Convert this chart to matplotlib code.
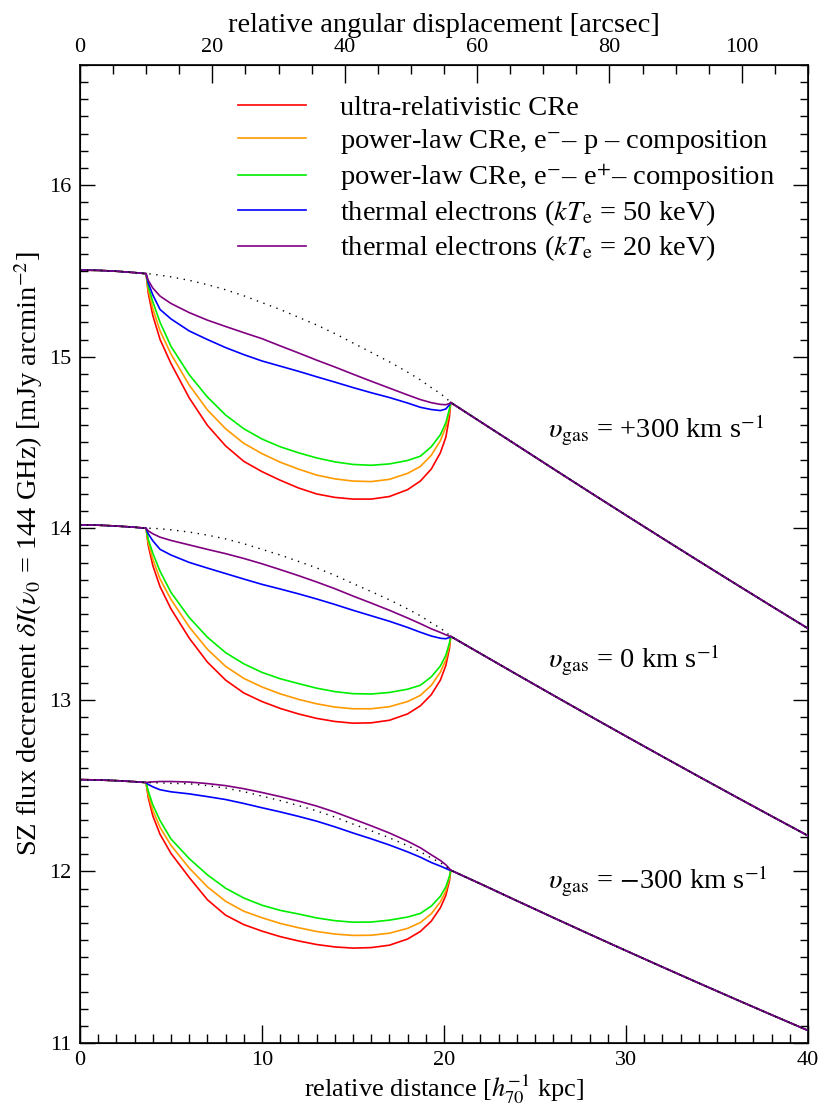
import matplotlib
matplotlib.use('Agg')
import matplotlib.pyplot as plt
from matplotlib.ticker import MultipleLocator

plt.rcParams['font.family'] = ['Liberation Serif', 'DejaVu Serif']
plt.rcParams['mathtext.fontset'] = 'stix'

# distance grid [kpc]
x_core = [0, 1, 2, 3, 3.63]
x_bub = [3.63, 3.75, 4.0, 4.4, 5.0, 6.0, 7.0, 8.0, 9.0, 10, 11, 12, 13, 14,
         15, 16, 17, 18, 18.7, 19.3, 19.8, 20.1, 20.3, 20.37]
x_tail = [20.37, 22, 24, 26, 28, 30, 32, 34, 36, 38, 40]

# v_gas = +300 km/s
top_core = [15.505, 15.503, 15.498, 15.49, 15.484]
top_tail = [14.733, 14.621, 14.484, 14.347, 14.211, 14.076, 13.942, 13.809, 13.677, 13.546, 13.416]
top_dot = [15.484, 15.483, 15.481, 15.475, 15.465, 15.445, 15.42, 15.39, 15.355, 15.315, 15.275, 15.23,
           15.185, 15.135, 15.08, 15.025, 14.97, 14.91, 14.865, 14.82, 14.785, 14.76, 14.74, 14.733]
top_red = [15.484, 15.37, 15.24, 15.10, 14.96, 14.76, 14.60, 14.48, 14.39, 14.33, 14.28, 14.235,
           14.20, 14.18, 14.17, 14.17, 14.185, 14.225, 14.275, 14.345, 14.44, 14.53, 14.65, 14.733]
top_orange = [15.484, 15.39, 15.28, 15.15, 15.015, 14.835, 14.69, 14.58, 14.495, 14.435, 14.385, 14.345,
              14.31, 14.288, 14.275, 14.272, 14.285, 14.32, 14.36, 14.425, 14.51, 14.59, 14.68, 14.733]
top_green = [15.484, 15.41, 15.32, 15.20, 15.06, 14.895, 14.765, 14.66, 14.58, 14.52, 14.475, 14.44,
             14.41, 14.387, 14.372, 14.367, 14.375, 14.395, 14.42, 14.475, 14.545, 14.615, 14.695, 14.733]
top_blue = [15.484, 15.43, 15.36, 15.275, 15.22, 15.15, 15.10, 15.053, 15.012, 14.975, 14.945, 14.915,
            14.883, 14.852, 14.82, 14.79, 14.762, 14.73, 14.705, 14.692, 14.686, 14.695, 14.72, 14.733]
top_purple = [15.484, 15.445, 15.40, 15.353, 15.31, 15.257, 15.213, 15.176, 15.14, 15.105, 15.063, 15.022,
              14.98, 14.94, 14.898, 14.857, 14.817, 14.777, 14.75, 14.732, 14.722, 14.72, 14.727, 14.733]

# v_gas = 0 km/s
mid_core = [14.02, 14.018, 14.013, 14.006, 14.0]
mid_tail = [13.37, 13.27, 13.148, 13.027, 12.907, 12.788, 12.67, 12.553, 12.437, 12.322, 12.208]
mid_dot = [14.0, 14.0, 14.0, 13.997, 13.991, 13.978, 13.96, 13.938, 13.91, 13.877, 13.844, 13.807,
           13.769, 13.726, 13.678, 13.631, 13.583, 13.53, 13.49, 13.449, 13.418, 13.395, 13.376, 13.37]
mid_red = [14.0, 13.90, 13.783, 13.659, 13.53, 13.36, 13.22, 13.115, 13.04, 12.99, 12.95, 12.918,
           12.892, 12.874, 12.864, 12.866, 12.881, 12.918, 12.965, 13.03, 13.115, 13.2, 13.3, 13.37]
mid_orange = [14.0, 13.915, 13.819, 13.704, 13.585, 13.425, 13.295, 13.195, 13.125, 13.075, 13.035, 13.003,
              12.977, 12.958, 12.948, 12.948, 12.96, 12.99, 13.026, 13.084, 13.161, 13.233, 13.317, 13.37]
mid_green = [14.0, 13.935, 13.855, 13.749, 13.626, 13.48, 13.365, 13.275, 13.21, 13.16, 13.123, 13.095,
             13.068, 13.048, 13.036, 13.034, 13.043, 13.062, 13.085, 13.134, 13.197, 13.26, 13.331, 13.37]
mid_blue = [14.0, 13.968, 13.927, 13.877, 13.844, 13.801, 13.768, 13.736, 13.704, 13.673, 13.646, 13.618,
            13.588, 13.556, 13.522, 13.49, 13.458, 13.422, 13.394, 13.372, 13.359, 13.356, 13.364, 13.37]
mid_purple = [14.0, 13.985, 13.968, 13.948, 13.929, 13.903, 13.877, 13.852, 13.824, 13.793, 13.759, 13.724,
              13.687, 13.648, 13.605, 13.564, 13.522, 13.477, 13.444, 13.414, 13.393, 13.379, 13.371, 13.37]

# v_gas = -300 km/s
bot_core = [12.535, 12.533, 12.529, 12.523, 12.518]
bot_tail = [12.007, 11.928, 11.829, 11.731, 11.634, 11.538, 11.443, 11.349, 11.256, 11.164, 11.073]
bot_dot = [12.518, 12.518, 12.517, 12.516, 12.513, 12.511, 12.5, 12.486, 12.465, 12.439, 12.413, 12.384,
           12.353, 12.317, 12.276, 12.237, 12.196, 12.15, 12.115, 12.078, 12.051, 12.03, 12.012, 12.007]
bot_red = [12.518, 12.43, 12.324, 12.216, 12.105, 11.965, 11.835, 11.745, 11.69, 11.652, 11.62, 11.595,
           11.574, 11.56, 11.553, 11.556, 11.57, 11.606, 11.65, 11.71, 11.788, 11.86, 11.946, 12.007]
bot_orange = [12.518, 12.445, 12.356, 12.256, 12.152, 12.02, 11.91, 11.826, 11.768, 11.73, 11.697, 11.672,
              11.65, 11.635, 11.627, 11.628, 11.64, 11.668, 11.702, 11.753, 11.822, 11.886, 11.96, 12.007]
bot_green = [12.518, 12.468, 12.388, 12.296, 12.189, 12.075, 11.98, 11.902, 11.845, 11.803, 11.773, 11.752,
             11.729, 11.713, 11.704, 11.705, 11.716, 11.734, 11.755, 11.798, 11.855, 11.91, 11.972, 12.007]
bot_blue = [12.518, 12.507, 12.493, 12.476, 12.464, 12.452, 12.436, 12.419, 12.396, 12.371, 12.347, 12.321,
            12.293, 12.26, 12.224, 12.19, 12.154, 12.114, 12.083, 12.052, 12.031, 12.017, 12.008, 12.007]
bot_purple = [12.518, 12.52, 12.522, 12.524, 12.524, 12.521, 12.512, 12.50, 12.482, 12.46, 12.436, 12.41,
              12.381, 12.346, 12.306, 12.266, 12.224, 12.176, 12.138, 12.097, 12.064, 12.039, 12.016, 12.007]

labels = ['ultra-relativistic CRe',
          r'power-law CRe, e$^{-}$– p – composition',
          r'power-law CRe, e$^{-}$– e$^{+}$– composition',
          r'thermal electrons ($kT_{\rm e}$ = 50 keV)',
          r'thermal electrons ($kT_{\rm e}$ = 20 keV)']
colors = ['#ff0000', '#ff9a00', '#00ee00', '#0000ff', '#800080']
vel_labels = [r'$\upsilon_{\rm gas}$ = +300 km s$^{-1}$',
              r'$\upsilon_{\rm gas}$ = 0 km s$^{-1}$',
              r'$\upsilon_{\rm gas}$ = $-$300 km s$^{-1}$']
vel_label_y = [14.57, 13.23, 11.94]

groups = [
    (top_core, top_tail, top_dot, [top_red, top_orange, top_green, top_blue, top_purple]),
    (mid_core, mid_tail, mid_dot, [mid_red, mid_orange, mid_green, mid_blue, mid_purple]),
    (bot_core, bot_tail, bot_dot, [bot_red, bot_orange, bot_green, bot_blue, bot_purple]),
]

x_full = x_core[:-1] + x_bub + x_tail[1:]

fig = plt.figure(figsize=(8.21, 11.06), dpi=100)
ax = fig.add_axes([80 / 821, 63 / 1106, 728 / 821, 978 / 1106])

for gi, (core, tail, dot, curves) in enumerate(groups):
    for ci, curve in enumerate(curves):
        ax.plot(x_full, core[:-1] + curve + tail[1:], color=colors[ci], lw=1.2,
                label=labels[ci] if gi == 0 else None, zorder=2 + ci)
    ax.plot(x_full, core[:-1] + dot + tail[1:], color='black', lw=1.0,
            linestyle=(0, (1, 4)), zorder=8)
    ax.text(25.7, vel_label_y[gi], vel_labels[gi], fontsize=20.5, va='center', ha='left')

ax.set_xlim(0, 40)
ax.set_ylim(11, 16.7)
ax.xaxis.set_major_locator(MultipleLocator(10))
ax.xaxis.set_minor_locator(MultipleLocator(1))
ax.yaxis.set_major_locator(MultipleLocator(1))
ax.yaxis.set_minor_locator(MultipleLocator(0.1))
ax.tick_params(axis='x', which='both', direction='in', bottom=True, top=False, labelsize=16, pad=6)
ax.tick_params(axis='x', which='major', length=13, width=1.0)
ax.tick_params(axis='x', which='minor', length=6.5, width=1.0)
ax.tick_params(axis='y', which='both', direction='in', left=True, right=True, labelsize=16, pad=6)
ax.tick_params(axis='y', which='major', length=11, width=1.0)
ax.tick_params(axis='y', which='minor', length=5.5, width=1.0)
for sp in ax.spines.values():
    sp.set_linewidth(1.2)

# top axis in arcsec (2.75 arcsec per kpc)
ax2 = ax.twiny()
ax2.set_xlim(0, 40 * 2.75)
ax2.xaxis.set_major_locator(MultipleLocator(20))
ax2.xaxis.set_minor_locator(MultipleLocator(5))
ax2.tick_params(which='both', direction='in', labelsize=16, pad=6)
ax2.tick_params(which='major', length=13, width=1.0)
ax2.tick_params(which='minor', length=6.5, width=1.0)
ax2.set_xlabel('relative angular displacement [arcsec]', fontsize=20.5, labelpad=4)

ax.set_xlabel(r'relative distance [$h_{70}^{-1}$ kpc]', fontsize=19)
ax.xaxis.set_label_coords(0.5, -0.0307)
ax.set_ylabel(r'SZ flux decrement $\delta I(\nu_0$ = 144 GHz) [mJy arcmin$^{-2}$]', fontsize=20.5, labelpad=3)

ax.legend(loc='upper left', bbox_to_anchor=(0.217, 0.969), frameon=False, fontsize=20.5,
          handlelength=2.4, handletextpad=1.2, labelspacing=0.2, borderpad=0, borderaxespad=0)

fig.savefig('out.png', dpi=100)
